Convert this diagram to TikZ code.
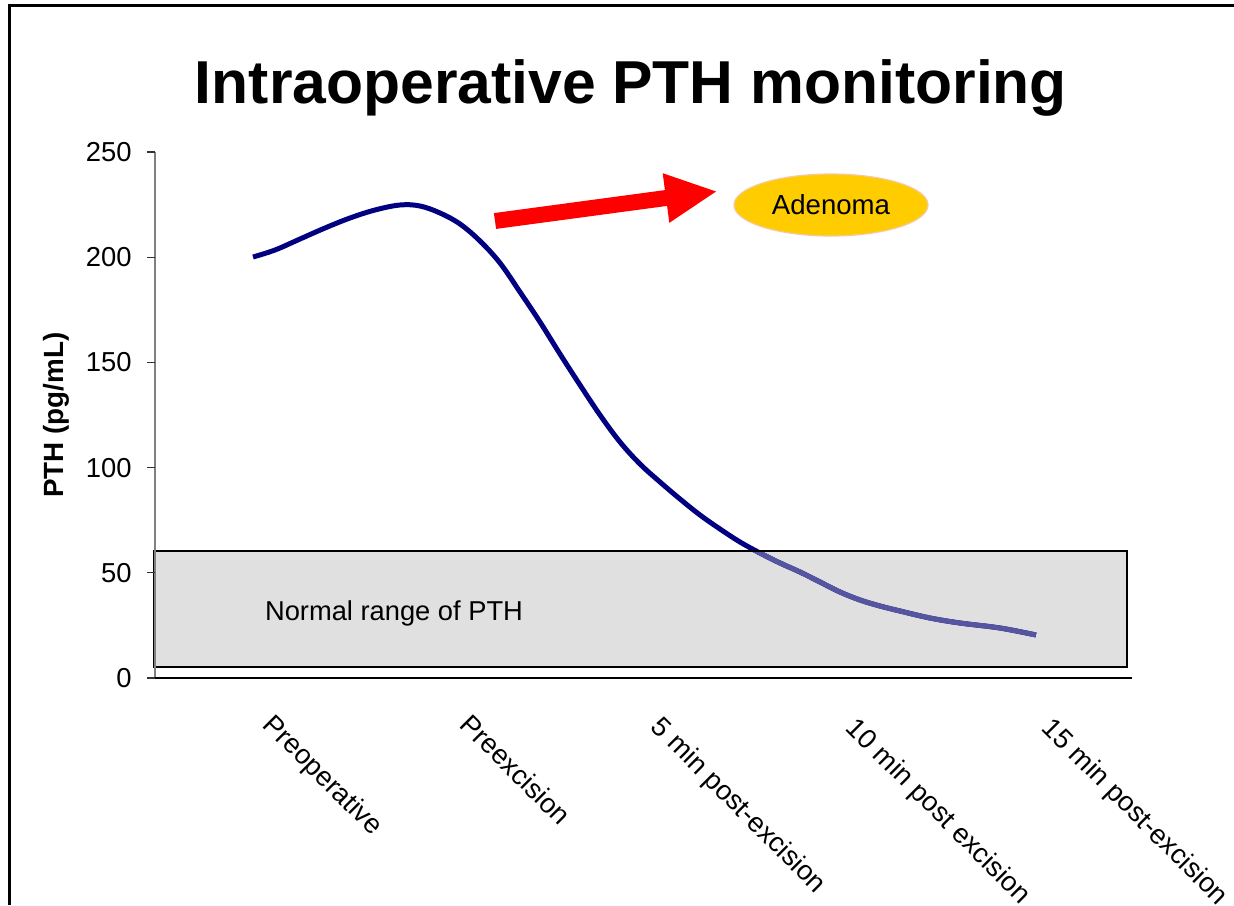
\documentclass[tikz,border=0pt]{standalone}
\usepackage{fontspec}
\setmainfont{Liberation Sans}
\usetikzlibrary{shapes.geometric}
\definecolor{navy}{RGB}{0,0,128}
\definecolor{navylight}{RGB}{85,85,160}
\definecolor{boxgray}{RGB}{224,224,224}
\definecolor{adenomafill}{RGB}{255,204,0}
\definecolor{peach}{RGB}{245,200,160}
\definecolor{axisgray}{RGB}{128,128,128}
\begin{document}
\begin{tikzpicture}[x=0.5pt,y=-0.5pt,
  ticklabel/.style={font=\fontsize{13.7}{16}\selectfont, anchor=east, inner sep=0pt},
  catlabel/.style={font=\fontsize{13.7}{16}\selectfont, anchor=north west, rotate=-45, inner sep=0pt},
  tickmark/.style={draw=black!80, line width=0.6pt},
  curve/.style={line width=2.5pt, line join=round},
]
\useasboundingbox (0,0) rectangle (1234,905);
\fill[white] (0,0) rectangle (1234,905);
% frame
\draw[line width=1.5pt] (9,905) -- (9,5.5) -- (1234,5.5);
% title
\node[anchor=base, inner sep=0pt, font=\fontsize{30.3}{36}\selectfont\bfseries] (title) at (631,103) {Intraoperative PTH monitoring};
% normal range box fill
\fill[boxgray] (154,551) rectangle (1127,667);
% curve
\draw[navy, curve] plot[smooth, tension=0.6] coordinates {(253,257) (275,250) (300,239) (325,228) (350,218) (375,210) (400,205) (420,206) (440,213) (460,224) (480,241) (500,263) (520,292) (540,322) (560,354) (580,385) (600,415) (620,442) (640,464) (660,482) (680,499) (700,515) (720,529) (740,542) (760,553) (780,563) (800,572) (820,582) (840,592) (860,600) (880,606) (900,611) (930,618) (960,623) (1000,628) (1036,635)};
\begin{scope}
\clip (154,551) rectangle (1127,667);
\draw[navylight, curve] plot[smooth, tension=0.6] coordinates {(253,257) (275,250) (300,239) (325,228) (350,218) (375,210) (400,205) (420,206) (440,213) (460,224) (480,241) (500,263) (520,292) (540,322) (560,354) (580,385) (600,415) (620,442) (640,464) (660,482) (680,499) (700,515) (720,529) (740,542) (760,553) (780,563) (800,572) (820,582) (840,592) (860,600) (880,606) (900,611) (930,618) (960,623) (1000,628) (1036,635)};
\end{scope}
\draw[line width=1pt] (154,551) rectangle (1127,667);
\node[font=\fontsize{13.65}{16}\selectfont, inner sep=0pt] (normal) at (394,613) {Normal range of PTH};
% axes
\draw[axisgray, line width=0.8pt] (155,152) -- (155,678);
\draw[black, line width=1pt] (147,678) -- (1132,678);
\foreach \yy/\lab [count=\i] in {152/250,257.2/200,362.4/150,467.6/100,572.8/50,678/0}{
  \draw[tickmark] (147,\yy) -- (155,\yy);
  \node[ticklabel] (tick\i) at (132,\yy) {\lab};
}
\node[rotate=90, anchor=base, inner sep=0pt, font=\fontsize{13.9}{16}\selectfont\bfseries] (ylab) at (63,415) {PTH (pg/mL)};
% categories
\node[catlabel] (c1) at (276,712) {Preoperative};
\node[catlabel] (c2) at (473,712) {Preexcision};
\node[catlabel] (c3) at (664,714) {5 min post-excision};
\node[catlabel] (c4) at (859,715) {10 min post excision};
\node[catlabel] (c5) at (1055,715) {15 min post-excision};
% adenoma
\node[ellipse, draw=peach, line width=0.6pt, fill=adenomafill, minimum width=97pt, minimum height=31pt, inner sep=0pt, font=\fontsize{13.8}{16}\selectfont] (aden) at (831,205) {Adenoma};
% red arrow
\coordinate (arrS) at (495,221);
\coordinate (arrT) at (716,191.5);
\fill[red] (493.9,213.1) -- (664.9,190.1) -- (662.7,173.2) -- (arrT) -- (669.3,222.8) -- (667.1,205.9) -- (496.1,228.9) -- cycle;
\end{tikzpicture}
\end{document}
